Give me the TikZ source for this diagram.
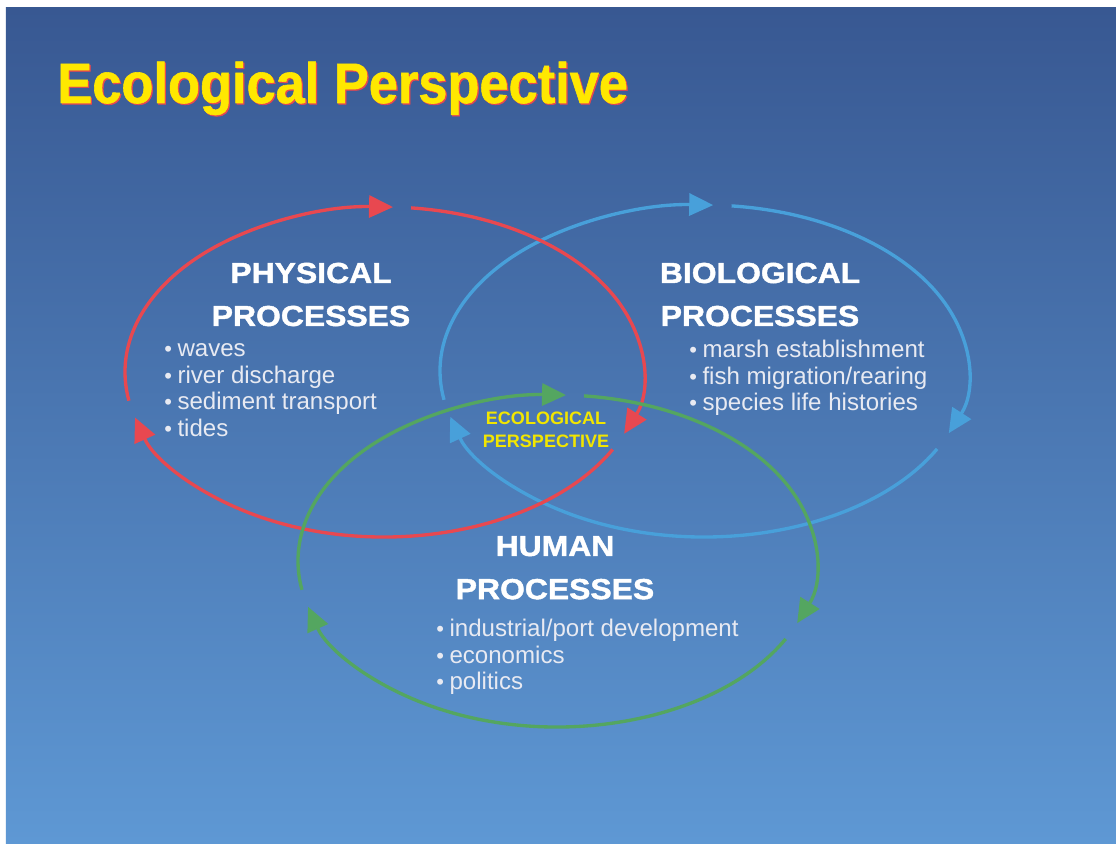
\documentclass[tikz,border=0pt]{standalone}
\usepackage{fontspec}
\setmainfont{Liberation Sans}
\newfontfamily\titlefont{Liberation Sans}[FakeStretch=0.92, BoldFeatures={FakeBold=1}]
\newfontfamily\headfont{Liberation Sans}[FakeStretch=1.1, BoldFeatures={FakeBold=1.5}]
\usepackage{xcolor}
\usepackage{tikz}
\usetikzlibrary{arrows.meta, positioning}
\definecolor{bgtop}{RGB}{56,88,146}
\definecolor{bgmid}{RGB}{62,108,172}
\definecolor{bgbot}{RGB}{94,152,212}
\definecolor{physred}{RGB}{232,72,80}
\definecolor{bioblue}{RGB}{72,160,218}
\definecolor{humgreen}{RGB}{84,166,96}
\definecolor{titleyellow}{RGB}{255,232,0}
\definecolor{ecoyellow}{RGB}{242,230,0}
\definecolor{itemgray}{RGB}{232,234,242}
\tikzstyle{cycle arrow} = [line width = 1.9pt, -{Triangle[length = 0.48cm, width = 0.44cm]}]
\tikzstyle{title} = [inner sep = 0pt, anchor = base west, text = titleyellow, font = \titlefont\bfseries\fontsize{32.4pt}{32.4pt}\selectfont]
\tikzstyle{heading} = [inner sep = 0pt, anchor = base, text = white, font = \headfont\bfseries\fontsize{16.5pt}{16.5pt}\selectfont]
\tikzstyle{item} = [inner sep = 0pt, anchor = base west, text = itemgray, font = \fontsize{13.7pt}{13.7pt}\selectfont]
\tikzstyle{eco} = [inner sep = 0pt, anchor = base, text = ecoyellow, font = \bfseries\fontsize{10.25pt}{10.25pt}\selectfont]
\newcommand{\bul}{{\fontsize{12.5pt}{12.5pt}\selectfont •}\kern 0.11cm}

\begin{document}
\begin{tikzpicture}[node distance = 0.86cm]
        % draw background
        \useasboundingbox (0,0) rectangle (22.32,16.92);
        \fill[white] (0,0) rectangle (22.32,16.92);
        \shade[top color = bgtop, middle color = bgmid, bottom color = bgbot] (0.12,0.06) rectangle (22.32,16.76);

        % draw title
        \node[title, text = physred] (shadow) at (1.165,14.835) {Ecological Perspective};
        \node[title] (title) at (1.14,14.86) {Ecological Perspective};

        % draw rings, each one in three arrows
        \coordinate (phys) at (7.68,9.48);
        \coordinate (bio) at (14.08,9.50);
        \coordinate (hum) at (11.14,5.70);
        \foreach \ring/\rx/\ry/\col in {bio/5.28/3.32/bioblue, phys/5.18/3.30/physred, hum/5.18/3.32/humgreen}
            \foreach \a/\b in {190/88, 84/-22, -28/-164}
                \draw[cycle arrow, draw = \col] (\ring) ++(\a:\rx cm and \ry cm)
                    arc[start angle = \a, end angle = \b, x radius = \rx cm, y radius = \ry cm];

        % draw headings
        \node[heading] (physa) at (6.22,11.26) {PHYSICAL};
        \node[heading] (physb) [below of = physa] {PROCESSES};
        \node[heading] (bioa) at (15.20,11.26) {BIOLOGICAL};
        \node[heading] (biob) [below of = bioa] {PROCESSES};
        \node[heading] (huma) at (11.10,5.80) {HUMAN};
        \node[heading] (humb) [below of = huma] {PROCESSES};
        \node[eco] (ecoa) at (10.92,8.42) {ECOLOGICAL};
        \node[eco] (ecob) [below of = ecoa, node distance = 0.46cm] {PERSPECTIVE};

        % draw items
        \foreach \t [count = \i] in {waves, river discharge, sediment transport, tides}
            \node[item] (phys\i) at (3.28,{9.78-0.527*(\i-1)}) {\bul\t};
        \foreach \t [count = \i] in {marsh establishment, fish migration/rearing, species life histories}
            \node[item] (bio\i) at (13.78,{9.76-0.527*(\i-1)}) {\bul\t};
        \foreach \t [count = \i] in {industrial/port development, economics, politics}
            \node[item] (hum\i) at (8.72,{4.18-0.527*(\i-1)}) {\bul\t};
    \end{tikzpicture}
\end{document}
